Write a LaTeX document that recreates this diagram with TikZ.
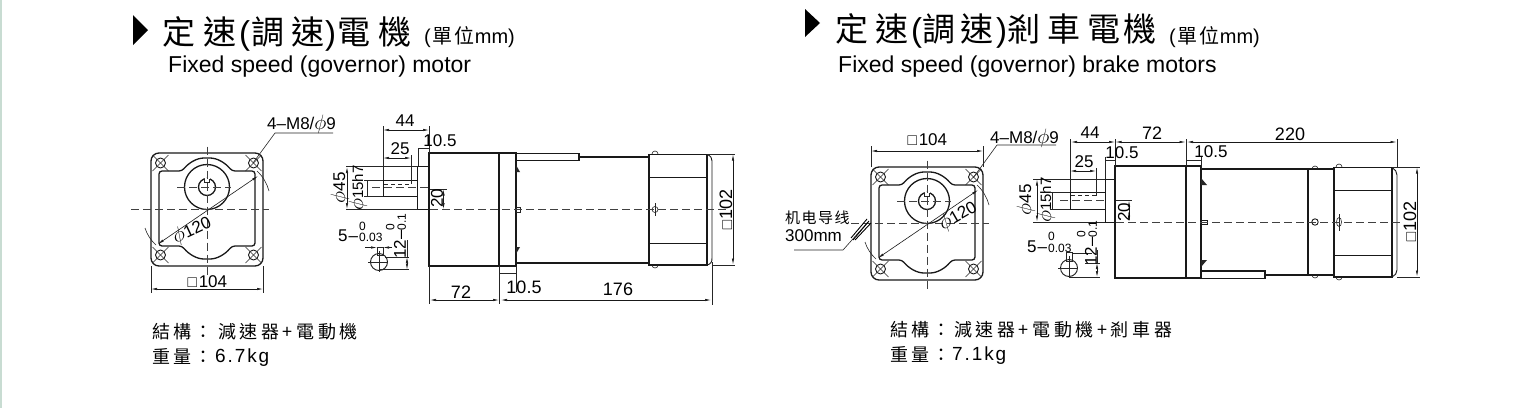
\documentclass[tikz,border=0pt]{standalone}
\usepackage{amsmath}
\usepackage{amssymb}
\usepackage{fontspec}
\usetikzlibrary{arrows.meta}
\setmainfont{Liberation Sans}
\newfontfamily\cjk{Noto Sans CJK TC}
\definecolor{stripcol}{RGB}{200,220,210}
\newcommand{\tolpair}[2]{\shortstack[l]{\fontsize{12}{10}\selectfont #1\\\fontsize{12}{10}\selectfont #2}}
\newcommand{\sq}{{\fontsize{14}{14}\selectfont$\square$}\kern1pt}
\newcommand{\dia}{{\fontsize{20}{20}\selectfont$\phi$}}
\newcommand{\frontview}{%
	\draw[outline,rounded corners=8pt] (-56,-56.5) rectangle (56,56.5);
	\draw[outline,rounded corners=3pt] (-48,-38.5) -- (-25,-38.5) .. controls (-18,-47) and (-10,-51.5) .. (0,-51.5) .. controls (10,-51.5) and (18,-47) .. (25,-38.5) -- (48,-38.5) -- (48,36.5) -- (25,36.5) .. controls (18,45) and (10,49.5) .. (0,49.5) .. controls (-10,49.5) and (-18,45) .. (-25,36.5) -- (-48,36.5) -- cycle;
	\draw[outline,fill=white] (0,-22.5) circle (22.5);
	\draw[outline] (0,-22.5) circle (8.5);
	\fill[white] (-2.5,-32) rectangle (2.5,-29);
	\draw[thinline] (-2.5,-30.5) -- (-2.5,-27.5) -- (2.5,-27.5) -- (2.5,-30.5);
	\foreach \hx/\hy in {-46.5/-46.5,46.5/-46.5,-46.5/45.5,46.5/45.5} {
		\draw[midline] (\hx,\hy) circle (5);
		\draw[thinline] (\hx-8,\hy-8) -- (\hx+8,\hy+8);
		\draw[thinline] (\hx-8,\hy+8) -- (\hx+8,\hy-8);
	}
	\draw[cntr] (-76,0) -- (62,0);
	\draw[cntr] (0,-63) -- (0,67);
	\draw[cntr] (-30,-22.5) -- (24,-22.5);
	\draw[dimline] (-49,34.5) -- (51,-33.5);
	\draw[thinline] (50,-38.5) .. controls (56,-33) and (60,-26) .. (62,-18.5);
	\draw[thinline] (-62,18.5) .. controls (-60,25) and (-56,31) .. (-51,35.5);
}
\begin{document}
\begin{tikzpicture}[x=1pt,y=-1pt,every node/.style={black,inner sep=0pt},
	outline/.style={line width=1.3pt,black!90},
	midline/.style={line width=0.9pt,black!90},
	thinline/.style={line width=0.6pt,black!85},
	cntr/.style={line width=0.6pt,black!75,dash pattern=on 8pt off 4pt},
	dimline/.style={line width=0.6pt,black!90,{Latex[length=6pt,width=2.4pt]}-{Latex[length=6pt,width=2.4pt]}},
	dimone/.style={line width=0.6pt,black!90,-{Latex[length=6pt,width=2.4pt]}},
	dimtext/.style={font=\fontsize{17}{17}\selectfont},
	bigdim/.style={font=\fontsize{18}{18}\selectfont},
	titletext/.style={anchor=west,font=\fontsize{33}{33}\selectfont},
	unittext/.style={anchor=west,font=\fontsize{20}{20}\selectfont},
	engtext/.style={anchor=west,font=\fontsize{23}{23}\selectfont},
	infotext/.style={anchor=west,font=\fontsize{18}{18}\selectfont}]
	\useasboundingbox (0,0) rectangle (1529,408);
	\fill[white] (0,0) rectangle (1529,408);
	\fill[stripcol] (0,0) rectangle (2,408);

	\fill[black] (133,15) -- (148,30) -- (133,45) -- cycle;
	\node[titletext] (titleA) at (162,34) {{\cjk 定}\kern8pt{\cjk 速}\kern3pt(\kern1pt{\cjk 調}\kern7pt{\cjk 速}\kern1pt)\kern1pt{\cjk 電}\kern8pt{\cjk 機}};
	\node[unittext] (unitA) at (424,37) {(\kern2pt{\cjk 單}\kern2pt{\cjk 位}mm)};
	\node[engtext] (engA) at (168,66.5) {Fixed speed (governor) motor};

	\fill[black] (805,9) -- (820,23) -- (805,37) -- cycle;
	\node[titletext] (titleB) at (835,31) {{\cjk 定}\kern7pt{\cjk 速}\kern3pt(\kern0pt{\cjk 調}\kern5pt{\cjk 速}\kern3pt)\kern0pt{\cjk 剎}\kern7pt{\cjk 車}\kern7pt{\cjk 電}\kern3pt{\cjk 機}};
	\node[unittext] (unitB) at (1169,37) {(\kern2pt{\cjk 單}\kern2pt{\cjk 位}mm)};
	\node[engtext] (engB) at (838,66.5) {Fixed speed (governor) brake motors};

	% front views
	\begin{scope}[shift={(207,209.5)}]
		\frontview
		\node[dimtext,rotate=25] (phiA) at (-15,21) {\dia 120};
	\end{scope}
	\begin{scope}[shift={(927,223.5)}]
		\frontview
		\node[dimtext,rotate=30] (phiB) at (31,-7.5) {\dia 120};
	\end{scope}

	\node[dimtext,anchor=west] (holeA) at (267,124) {4--M8/\dia 9};
	\draw[thinline] (253,163) -- (275,133) -- (333,133);
	\draw[thinline] (151,266) -- (151,293);
	\draw[thinline] (263,266) -- (263,293);
	\draw[dimline] (151,289) -- (263,289);
	\node[dimtext] (sqA) at (207,282) {\sq 104};

	\node[dimtext,anchor=west] (holeB) at (990,138) {4--M8/\dia 9};
	\draw[thinline] (973,178) -- (997,145) -- (1056,145);
	\draw[thinline] (871,167) -- (871,146);
	\draw[thinline] (983,167) -- (983,146);
	\draw[dimline] (871,151) -- (983,151);
	\node[dimtext] (sqB) at (927,140) {\sq 104};

	\node[dimtext,anchor=west] (wireA) at (785,218) {\cjk\fontsize{15}{15}\selectfont\addfontfeature{LetterSpace=10}机电导线};
	\node[dimtext,anchor=west] (wireB) at (785,236) {300mm};
	\draw[thinline] (794,250) -- (843,250) -- (868,222);
	\draw[line width=0.9pt] (853,240) -- (869,221);
	\draw[line width=0.9pt] (855,240) -- (871,223);
	\draw[line width=0.9pt] (851,238) -- (867,219);

	% left side view
	\draw[outline] (429,153) rectangle (499,266);
	\draw[outline] (499,153) rectangle (516,266);
	\draw[midline] (417.5,166.5) -- (429,166.5);
	\draw[midline] (417.5,166.5) -- (417.5,209.5) -- (429,209.5);
	\draw[midline] (383,180) -- (417.5,180);
	\draw[midline] (383,196.5) -- (417.5,196.5);
	\draw[midline] (383,180) -- (383,196.5);
	\draw[cntr] (372,187.5) -- (429,187.5);
	\draw[thinline,dash pattern=on 4pt off 3pt] (384,184) -- (411,184);
	\draw[outline] (516,153.5) -- (579,153.5) -- (579,160.5) -- (516,160.5);
	\draw[outline] (579,157) -- (649,157);
	\draw[outline] (516,263) -- (649,263);
	\draw[outline] (649,154.5) rectangle (707,265);
	\draw[midline] (649,177) -- (707,177);
	\draw[midline] (649,243) -- (707,243);
	\draw[midline] (707,154.5) .. controls (711,156) and (712,158) .. (712,161) -- (712,258) .. controls (712,262) and (711,264) .. (707,265);
	\draw[thinline] (652,154) arc (180:360:3);
	\draw[thinline] (652,265) arc (180:0:3);
	\draw[thinline] (655,209.5) circle (3);
	\draw[thinline] (655,203) -- (655,216);
	\draw[thinline] (516,207.5) rectangle (520,212);
	\fill[black!85] (516,165) -- (520,172) -- (516,172) -- cycle;
	\fill[black!85] (516,247) -- (520,247) -- (516,254) -- cycle;
	\draw[cntr] (430,209.5) -- (726,209.5);

	\draw[thinline] (383,126) -- (383,180);
	\draw[thinline] (429,126) -- (429,153);
	\draw[dimline] (383,130) -- (429,130);
	\node[dimtext] (d44A) at (405,121) {44};
	\draw[thinline] (411,155) -- (411,184);
	\draw[dimline] (383,158) -- (411,158);
	\node[dimtext] (d25A) at (400,149) {25};
	\draw[thinline] (418,148) -- (429,148);
	\draw[thinline] (418,148) -- (418,166);
	\node[dimtext] (d105A) at (440,141) {10.5};
	\draw[thinline] (346,166) -- (418,166);
	\draw[thinline] (346,209.5) -- (418,209.5);
	\draw[dimline] (347,167) -- (347,209);
	\node[dimtext,rotate=90] (d45A) at (340,188) {\dia 45};
	\node[dimtext,rotate=90] (d15A) at (358,188) {\fontsize{15}{15}\selectfont\dia 15h7};
	\draw[thinline] (364,180) -- (383,180);
	\draw[thinline] (364,196.5) -- (383,196.5);
	\draw[thinline] (367,180) -- (367,196.5);
	\draw[thinline] (430,189) -- (447,189);
	\draw[dimline] (443.5,189.5) -- (443.5,209);
	\node[dimtext,rotate=90] (d20A) at (437,198) {20};

	\draw[thinline] (429,266) -- (429,304);
	\draw[thinline] (499,266) -- (499,304);
	\draw[thinline] (516,266) -- (516,292);
	\draw[thinline] (712,262) -- (712,305);
	\draw[thinline] (499,273.5) -- (516,273.5);
	\draw[dimline] (430,300) -- (499,300);
	\draw[dimline] (501,300) -- (711,300);
	\node[bigdim] (d72A) at (461,292) {72};
	\node[bigdim] (d105B) at (524,287) {10.5};
	\node[bigdim] (d176A) at (618,289) {176};
	\draw[thinline] (707,154) -- (735,154);
	\draw[thinline] (712,265) -- (735,265);
	\draw[dimline] (733,154.5) -- (733,264.5);
	\node[bigdim,rotate=90] (d102A) at (726,210) {\sq 102};

	\draw[midline] (379,262) circle (8.5);
	\draw[thinline] (377,255) rectangle (383,247);
	\draw[thinline] (368,262) -- (388,262);
	\draw[thinline] (379,251) -- (379,272);
	\draw[dimone] (365,247.5) -- (377,247.5);
	\draw[dimone] (392,247.5) -- (383,247.5);
	\draw[thinline] (385,257) -- (409,257);
	\draw[thinline] (380,269.5) -- (409,269.5);
	\draw[thinline] (407,240) -- (407,257);
	\draw[dimline] (407,257) -- (407,269.5);
	\node[dimtext,anchor=base west] (keyA) at (338,241.5) {5\kern1pt--\kern1pt\tolpair{0}{0.03}};
	\node[dimtext,rotate=90] (keyhA) at (396,236) {12--\tolpair{0}{0.1}};

	% right side view
	\draw[outline] (1115,166) rectangle (1186,278);
	\draw[outline] (1186,166) rectangle (1201,278);
	\draw[midline] (1105,179) -- (1115,179);
	\draw[midline] (1105,179) -- (1105,222) -- (1115,222);
	\draw[midline] (1070,192) -- (1105,192);
	\draw[midline] (1070,209) -- (1105,209);
	\draw[midline] (1070,192) -- (1070,209);
	\draw[cntr] (1060,200.5) -- (1106,200.5);
	\draw[thinline,dash pattern=on 4pt off 3pt] (1071,195.5) -- (1096,195.5);
	\draw[outline] (1201,169) -- (1308,169);
	\draw[outline] (1265,275) -- (1334,275);
	\draw[outline] (1201,271) -- (1265,271) -- (1265,278.5) -- (1201,278.5);
	\draw[outline] (1308,169) rectangle (1334,275);
	\draw[outline] (1334,167.5) rectangle (1392,277);
	\draw[midline] (1334,190) -- (1392,190);
	\draw[midline] (1334,255) -- (1392,255);
	\draw[midline] (1392,167.5) .. controls (1395,169) and (1397,172) .. (1397,175) -- (1397,270) .. controls (1397,273) and (1395,276) .. (1392,277);
	\draw[thinline] (1312,169) arc (180:360:3);
	\draw[thinline] (1312,275) arc (180:0:3);
	\draw[thinline] (1336,167) arc (180:360:3);
	\draw[thinline] (1336,277) arc (180:0:3);
	\draw[midline] (1315,222) circle (3.2);
	\draw[thinline] (1339,222) ellipse (2.5 and 4.5);
	\draw[thinline] (1339,214) -- (1339,231);
	\draw[midline] (1201,220.5) rectangle (1207,224);
	\fill[black!85] (1201,178) -- (1207,185) -- (1201,185) -- cycle;
	\fill[black!85] (1201,260) -- (1207,260) -- (1201,267) -- cycle;
	\draw[cntr] (1116,222) -- (1402,222);

	\draw[thinline] (1070,139) -- (1070,192);
	\draw[thinline] (1115,139) -- (1115,166);
	\draw[thinline] (1186,139) -- (1186,166);
	\draw[thinline] (1397,139) -- (1397,168);
	\draw[dimline] (1071,142) -- (1115,142);
	\draw[dimline] (1115.5,142) -- (1185.5,142);
	\draw[dimline] (1187,142) -- (1396.5,142);
	\node[dimtext] (d44B) at (1090,133) {44};
	\node[bigdim] (d72B) at (1152,133) {72};
	\node[bigdim] (d220B) at (1290,134) {220};
	\draw[thinline] (1096,168) -- (1096,195.5);
	\draw[dimline] (1070,171) -- (1096,171);
	\node[dimtext] (d25B) at (1084,162) {25};
	\draw[thinline] (1105,157) -- (1105,179);
	\draw[thinline] (1105,160) -- (1115,160);
	\draw[thinline] (1201,157) -- (1201,169);
	\draw[thinline] (1186,160) -- (1201,160);
	\node[dimtext] (d105C) at (1122,153) {10.5};
	\node[dimtext] (d105D) at (1211,152) {10.5};
	\draw[thinline] (1033,179) -- (1105,179);
	\draw[thinline] (1033,222) -- (1105,222);
	\draw[dimline] (1037,179.5) -- (1037,221.5);
	\node[dimtext,rotate=90] (d45B) at (1026,200) {\dia 45};
	\node[dimtext,rotate=90] (d15B) at (1046,200) {\fontsize{15}{15}\selectfont\dia 15h7};
	\draw[thinline] (1050,192) -- (1070,192);
	\draw[thinline] (1050,209) -- (1070,209);
	\draw[thinline] (1052,192) -- (1052,209);
	\draw[thinline] (1116,200) -- (1132,200);
	\draw[dimline] (1129,200.5) -- (1129,221.5);
	\node[dimtext,rotate=90] (d20B) at (1124,212) {20};
	\draw[thinline] (1392,167) -- (1420,167);
	\draw[thinline] (1397,277) -- (1420,277);
	\draw[dimline] (1417,167.5) -- (1417,276.5);
	\node[bigdim,rotate=90] (d102B) at (1410,222) {\sq 102};

	\draw[midline] (1069,268) circle (8.5);
	\draw[thinline] (1066,261) rectangle (1072,252);
	\draw[thinline] (1058,268) -- (1078,268);
	\draw[thinline] (1069,256) -- (1069,278);
	\draw[thinline] (1072,253) -- (1092,253);
	\draw[thinline] (1085,263) -- (1100,263);
	\draw[thinline] (1069,277) -- (1100,277);
	\draw[thinline] (1097,250) -- (1097,263);
	\draw[dimline] (1097,263) -- (1097,277);
	\node[dimtext,anchor=base west] (keyB) at (1027,252) {5\kern1pt--\kern1pt\tolpair{0}{0.03}};
	\node[dimtext,rotate=90] (keyhB) at (1087,243) {12--\tolpair{0}{0.1}};

	% bottom texts
	\node[infotext] (infoA) at (152,332) {\cjk\addfontfeature{LetterSpace=18}結構：};
	\node[infotext] (infoB) at (218,332) {\cjk\addfontfeature{LetterSpace=20}減速器+電動機};
	\node[infotext] (infoC) at (152,356) {\cjk\addfontfeature{LetterSpace=18}重量：};
	\node[infotext,font=\fontsize{19}{19}\selectfont] (infoD) at (215,358) {\addfontfeature{LetterSpace=10}6.7kg};
	\node[infotext] (infoE) at (890,330) {\cjk\addfontfeature{LetterSpace=18}結構：};
	\node[infotext] (infoF) at (954,330) {\cjk\addfontfeature{LetterSpace=20}減速器+電動機+剎車器};
	\node[infotext] (infoG) at (890,354) {\cjk\addfontfeature{LetterSpace=18}重量：};
	\node[infotext,font=\fontsize{19}{19}\selectfont] (infoH) at (952,356) {\addfontfeature{LetterSpace=10}7.1kg};
\end{tikzpicture}
\end{document}
